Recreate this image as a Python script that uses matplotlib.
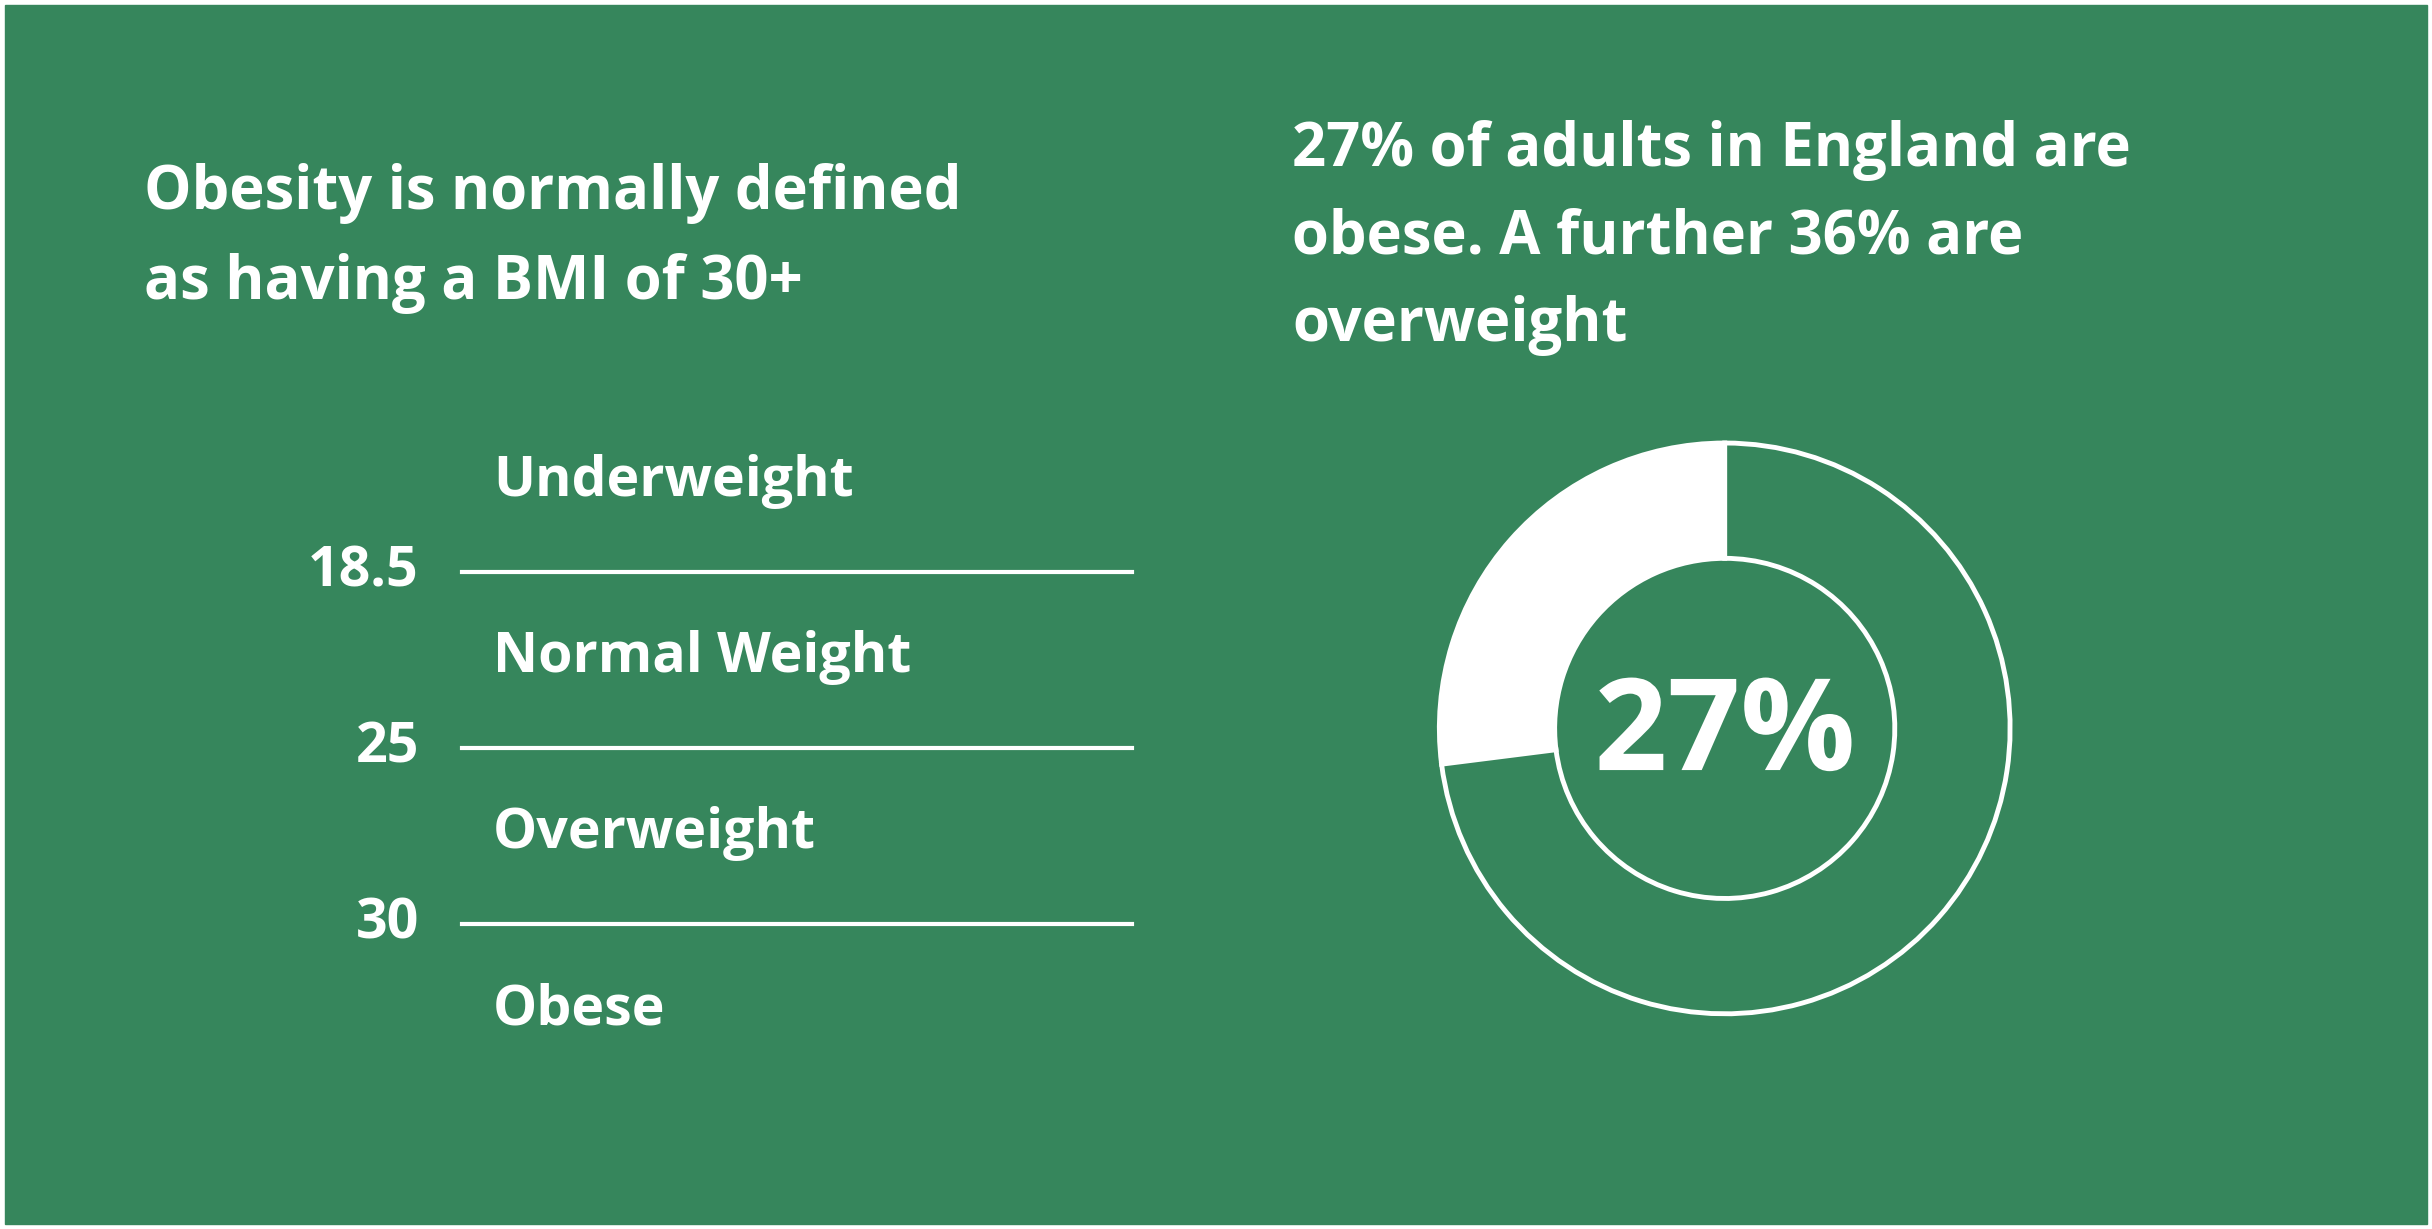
import matplotlib.pyplot as plt
import matplotlib.patheffects as pe

W, H = 1568, 793  # layout coordinates of the reference
green = "#36865C"

bmi_cuts = ["18.5", "25", "30"]
categories = ["Underweight", "Normal Weight", "Overweight", "Obese"]
share = [27, 73]
share_label = "27%"

fig = plt.figure(figsize=(24.32, 12.29), dpi=100)
fig.patch.set_facecolor("white")
ax = fig.add_axes([0, 0, 1, 1])
ax.set_xlim(0, W)
ax.set_ylim(H, 0)
ax.axis("off")
ax.add_patch(plt.Rectangle((3, 3), W - 6, H - 6, color=green))

font = dict(family=["Open Sans", "DejaVu Sans"], weight="bold", color="white")

ax.text(93, 125, "Obesity is normally defined", fontsize=43, va="center", **font)
ax.text(93, 183, "as having a BMI of 30+", fontsize=43, va="center", **font)
for i, s in enumerate(["27% of adults in England are",
                       "obese. A further 36% are", "overweight"]):
    ax.text(833, 97 + i * 56.5, s, fontsize=43, va="center", **font)

for i, c in enumerate(bmi_cuts):
    y = 369 + i * 113.5
    ax.plot([298, 730], [y, y], color="white", lw=3)
    ax.text(270, y, c, fontsize=40, ha="right", va="center", **font)
for i, c in enumerate(categories):
    ax.text(318, 311 + i * 113.5, c, fontsize=40, va="center", **font)

# donut
cx, cy, r = 1112, 470, 186
pax = fig.add_axes([(cx - r) / W, 1 - (cy + r) / H, 2 * r / W, 2 * r / H])
pax.pie(share, radius=0.99, startangle=90, counterclock=True,
        colors=["white", green],
        wedgeprops=dict(width=0.4, edgecolor="white", linewidth=3.5))
pax.set_xlim(-1, 1)
pax.set_ylim(-1, 1)
pax.set_aspect("equal")
pax.axis("off")
t = pax.text(0, -0.03, share_label, fontsize=92, ha="center", va="center", **font)
t.set_path_effects([pe.withStroke(linewidth=3, foreground=green)])

fig.savefig("out.png", dpi=100)
